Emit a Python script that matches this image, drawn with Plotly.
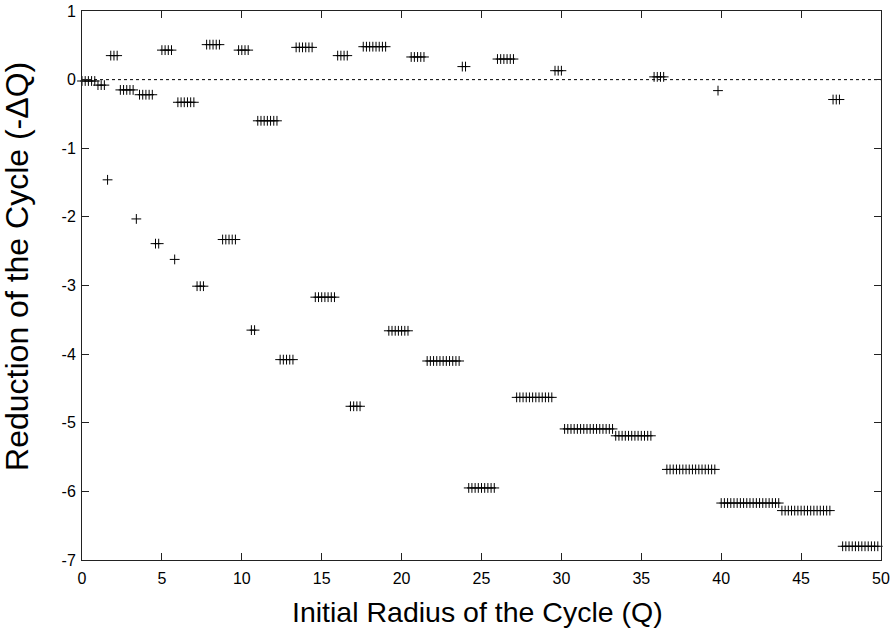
import plotly.graph_objects as go

# Each cluster: x values (initial radius) sharing one reduction value
cluster_x = [
    [0.0, 0.2, 0.4, 0.6, 0.8],
    [1.0, 1.2, 1.4],
    [1.6],
    [1.8, 2.0, 2.2],
    [2.4, 2.6, 2.8, 3.0, 3.2],
    [3.4],
    [3.6, 3.8, 4.0, 4.2, 4.4],
    [4.6, 4.8],
    [5.0, 5.2, 5.4, 5.6],
    [5.8],
    [6.0, 6.2, 6.4, 6.6, 6.8, 7.0],
    [7.2, 7.4, 7.6],
    [7.8, 8.0, 8.2, 8.4, 8.6],
    [8.8, 9.0, 9.2, 9.4, 9.6],
    [9.8, 10.0, 10.2, 10.4],
    [10.6, 10.8],
    [11.0, 11.2, 11.4, 11.6, 11.8, 12.0, 12.2],
    [12.4, 12.6, 12.8, 13.0, 13.2],
    [13.4, 13.6, 13.8, 14.0, 14.2, 14.4],
    [14.6, 14.8, 15.0, 15.2, 15.4, 15.6, 15.8],
    [16.0, 16.2, 16.4, 16.6],
    [16.8, 17.0, 17.2, 17.4],
    [17.6, 17.8, 18.0, 18.2, 18.4, 18.6, 18.8, 19.0],
    [19.2, 19.4, 19.6, 19.8, 20.0, 20.2, 20.4],
    [20.6, 20.8, 21.0, 21.2, 21.4],
    [21.6, 21.8, 22.0, 22.2, 22.4, 22.6, 22.8, 23.0, 23.2, 23.4, 23.6],
    [23.8, 24.0],
    [24.2, 24.4, 24.6, 24.8, 25.0, 25.2, 25.4, 25.6, 25.8],
    [26.0, 26.2, 26.4, 26.6, 26.8, 27.0],
    [27.2, 27.4, 27.6, 27.8, 28.0, 28.2, 28.4, 28.6, 28.8, 29.0, 29.2, 29.4],
    [29.6, 29.8, 30.0],
    [30.2, 30.4, 30.6, 30.8, 31.0, 31.2, 31.4, 31.6, 31.8, 32.0, 32.2, 32.4,
     32.6, 32.8, 33.0, 33.2],
    [33.4, 33.6, 33.8, 34.0, 34.2, 34.4, 34.6, 34.8, 35.0, 35.2, 35.4, 35.6],
    [35.8, 36.0, 36.2, 36.4],
    [36.6, 36.8, 37.0, 37.2, 37.4, 37.6, 37.8, 38.0, 38.2, 38.4, 38.6, 38.8,
     39.0, 39.2, 39.4, 39.6],
    [39.8],
    [40.0, 40.2, 40.4, 40.6, 40.8, 41.0, 41.2, 41.4, 41.6, 41.8, 42.0, 42.2,
     42.4, 42.6, 42.8, 43.0, 43.2, 43.4, 43.6],
    [43.8, 44.0, 44.2, 44.4, 44.6, 44.8, 45.0, 45.2, 45.4, 45.6, 45.8, 46.0,
     46.2, 46.4, 46.6, 46.8],
    [47.0, 47.2, 47.4],
    [47.6, 47.8, 48.0, 48.2, 48.4, 48.6, 48.8, 49.0, 49.2, 49.4, 49.6, 49.8],
]

cluster_y = [
    -0.02, -0.08, -1.46, 0.35, -0.15, -2.03, -0.22, -2.39, 0.43, -2.62,
    -0.33, -3.01, 0.51, -2.33, 0.43, -3.65, -0.60, -4.08, 0.47, -3.17,
    0.35, -4.76, 0.48, -3.66, 0.33, -4.10, 0.19, -5.95, 0.30, -4.63,
    0.13, -5.09, -5.19, 0.04, -5.68, -0.16, -6.17, -6.28, -0.29, -6.80,
]

x_ticks = [0, 5, 10, 15, 20, 25, 30, 35, 40, 45, 50]
x_tick_labels = ["0", "5", "10", "15", "20", "25", "30", "35", "40", "45", "50"]
y_ticks = [1, 0, -1, -2, -3, -4, -5, -6, -7]
y_tick_labels = ["1", "0", "-1", "-2", "-3", "-4", "-5", "-6", "-7"]

xs, ys = [], []
for cx, cy in zip(cluster_x, cluster_y):
    for v in cx:
        xs.append(v)
        ys.append(cy)

FONT = "Liberation Sans, Arial, Helvetica, sans-serif"

fig = go.Figure()
fig.add_trace(go.Scatter(
    x=xs, y=ys, mode="markers",
    marker=dict(symbol="cross-thin", size=7, color="black",
                line=dict(color="black", width=1)),
    showlegend=False, hoverinfo="x+y", cliponaxis=False,
))

fig.add_shape(type="line", xref="x", yref="y", x0=0, x1=50, y0=0, y1=0,
              line=dict(color="black", width=1, dash="3px,3px"), layer="below")

axis_common = dict(
    showline=True, linecolor="#222", linewidth=1, mirror="ticks",
    ticks="inside", ticklen=7, tickwidth=1, tickcolor="#222",
    showgrid=False, zeroline=False, automargin=False,
    tickfont=dict(family=FONT, size=16, color="black"),
)

fig.update_xaxes(range=[0, 50], tickvals=x_ticks, ticktext=x_tick_labels,
                 ticklabelstandoff=4, **axis_common)
fig.update_yaxes(range=[-7, 1], tickvals=y_ticks, ticktext=y_tick_labels,
                 ticklabelstandoff=2, **axis_common)

fig.add_annotation(text="Initial Radius of the Cycle (Q)", xref="paper", yref="paper",
                   x=0.495, y=-0.094, xanchor="center", yanchor="middle",
                   showarrow=False, font=dict(family=FONT, size=28.5, color="black"))
fig.add_annotation(text="Reduction of the Cycle (-ΔQ)", xref="paper", yref="paper",
                   x=-0.0813, y=0.534, xanchor="center", yanchor="middle", textangle=-90,
                   showarrow=False, font=dict(family=FONT, size=32, color="black"))

fig.update_layout(
    width=896, height=632,
    margin=dict(l=82, r=15, t=11, b=72, autoexpand=False),
    paper_bgcolor="white", plot_bgcolor="white",
    font=dict(family=FONT, color="black"),
)

fig.write_html("out.html")
